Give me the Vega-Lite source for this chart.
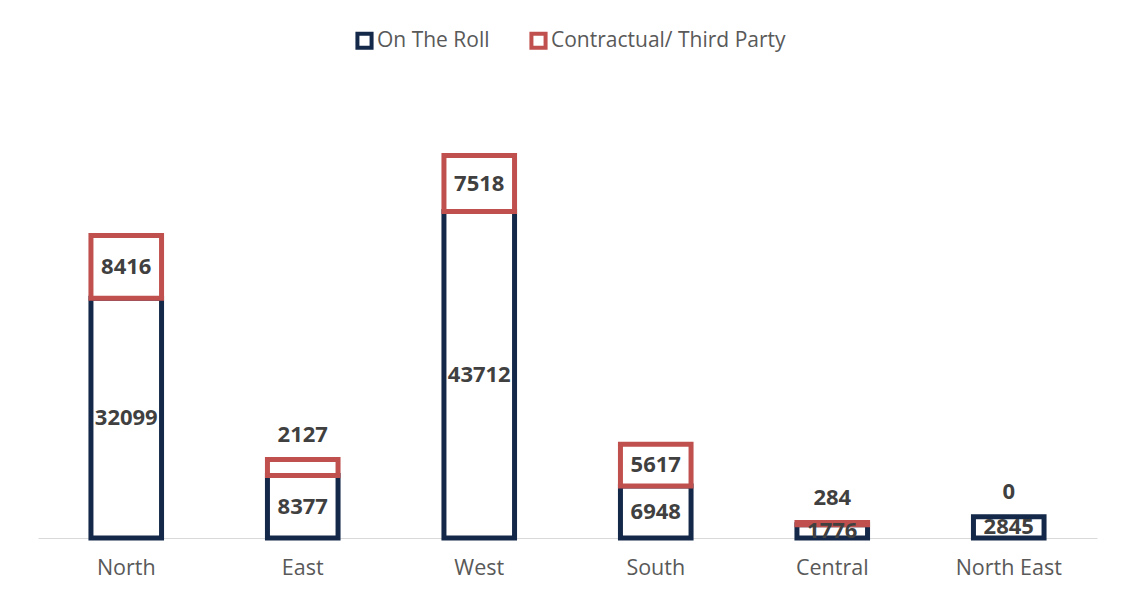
{
  "$schema": "https://vega.github.io/schema/vega-lite/v6.json",
  "autosize": {"type": "none"},
  "padding": {"left": 38, "top": 90, "right": 33, "bottom": 62},
  "width": 1059,
  "height": 448,
  "background": "white",
  "config": {"view": {"stroke": null}, "font": "Open Sans"},
  "data": {
    "values": [
      {"region": "North", "series": "On The Roll", "value": 32099},
      {"region": "East", "series": "On The Roll", "value": 8377},
      {"region": "West", "series": "On The Roll", "value": 43712},
      {"region": "South", "series": "On The Roll", "value": 6948},
      {"region": "Central", "series": "On The Roll", "value": 1776},
      {"region": "North East", "series": "On The Roll", "value": 2845},
      {"region": "North", "series": "Contractual/ Third Party", "value": 8416},
      {"region": "East", "series": "Contractual/ Third Party", "value": 2127},
      {"region": "West", "series": "Contractual/ Third Party", "value": 7518},
      {"region": "South", "series": "Contractual/ Third Party", "value": 5617},
      {"region": "Central", "series": "Contractual/ Third Party", "value": 284},
      {"region": "North East", "series": "Contractual/ Third Party", "value": 0}
    ]
  },
  "transform": [
    {"stack": "value", "groupby": ["region"], "sort": [{"field": "series", "order": "descending"}], "as": ["y0", "y1"]},
    {"calculate": "(datum.y0 + datum.y1) / 2", "as": "mid"}
  ],
  "encoding": {
    "x": {
      "field": "region", "type": "nominal", "sort": null,
      "scale": {"paddingInner": 0.6, "paddingOuter": 0.3},
      "axis": {
        "title": null, "labelAngle": 0, "ticks": false,
        "domainColor": "#d9d9d9", "domainWidth": 1.2,
        "labelFontSize": 21.5, "labelColor": "#595959", "labelPadding": 19,
        "labelFont": "Open Sans"
      }
    }
  },
  "layer": [
    {
      "transform": [{"filter": "datum.value > 0"}],
      "mark": {"type": "bar", "fill": "white", "strokeWidth": 5, "strokeJoin": "miter"},
      "encoding": {
        "y": {"field": "y0", "type": "quantitative", "scale": {"domain": [0, 60000]}, "axis": null},
        "y2": {"field": "y1"},
        "stroke": {
          "field": "series", "type": "nominal",
          "scale": {"domain": ["On The Roll", "Contractual/ Third Party"], "range": ["#14284a", "#c0504d"]},
          "legend": {
            "title": null, "orient": "none", "direction": "horizontal",
            "legendX": 316, "legendY": -60,
            "symbolType": "square", "symbolSize": 200, "symbolFillColor": "white",
            "symbolStrokeWidth": 4, "labelFontSize": 21, "labelColor": "#595959",
            "labelFont": "Open Sans", "labelLimit": 400, "columnPadding": 33, "labelOffset": 2
          }
        }
      }
    },
    {
      "transform": [{"filter": "datum.series == 'On The Roll' || datum.value >= 3000"}],
      "mark": {"type": "text", "fontSize": 22, "fontWeight": "bold", "color": "#404040", "baseline": "middle"},
      "encoding": {
        "y": {"field": "mid", "type": "quantitative", "scale": {"domain": [0, 60000]}},
        "text": {"field": "value", "type": "quantitative", "format": "d"}
      }
    },
    {
      "transform": [{"filter": "datum.series != 'On The Roll' && datum.value < 3000"}],
      "mark": {"type": "text", "fontSize": 22, "fontWeight": "bold", "color": "#404040", "baseline": "middle", "dy": -25},
      "encoding": {
        "y": {"field": "y1", "type": "quantitative", "scale": {"domain": [0, 60000]}},
        "text": {"field": "value", "type": "quantitative", "format": "d"}
      }
    }
  ]
}
